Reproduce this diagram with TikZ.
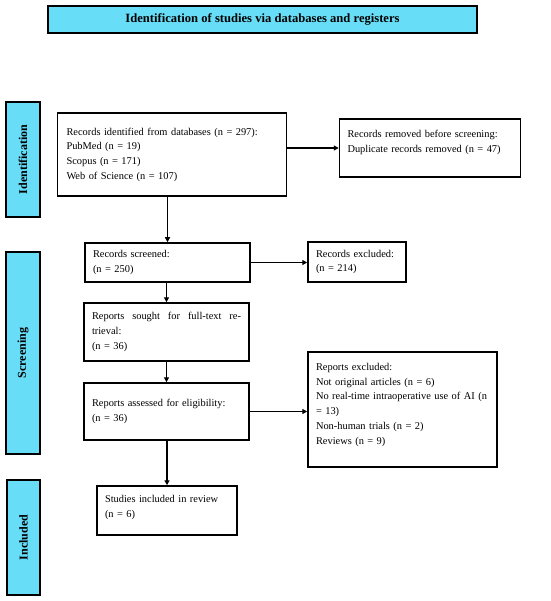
\documentclass[tikz,border=0pt]{standalone}
\usepackage{fontspec}
\setmainfont{Liberation Serif}
\usetikzlibrary{arrows.meta}
\definecolor{phase}{RGB}{104,221,247}
\begin{document}
\begin{tikzpicture}[x=1pt,y=-1pt,
  every node/.style={font=\fontsize{10.4}{14.7}\selectfont},
  box/.style={draw=black,line width=1.5pt,fill=white,inner xsep=8pt,inner ysep=0pt,align=left},
  phasebox/.style={draw=black,line width=1.5pt,fill=phase,inner sep=0pt},
  phaselabel/.style={rotate=90,font=\fontsize{12}{13}\selectfont\bfseries},
  flow/.style={line width=1.9pt,-{Triangle[length=5pt,width=5pt]}}]
\useasboundingbox (0,0) rectangle (550,601);
% title
\node[phasebox,minimum width=429pt,minimum height=27pt,font=\fontsize{12.6}{13}\selectfont\bfseries] (title) at (262.5,19.5) {Identification of studies via databases and registers};
% phase labels
\node[phasebox,minimum width=34pt,minimum height=115pt] (pid) at (23,159.5) {};
\node[phaselabel] (pidt) at (pid.center) {Identification};
\node[phasebox,minimum width=34pt,minimum height=202pt] (psc) at (23,353) {};
\node[phaselabel] (psct) at (psc.center) {Screening};
\node[phasebox,minimum width=33pt,minimum height=115pt] (pin) at (23.5,537.5) {};
\node[phaselabel] (pint) at (pin.center) {Included};
% boxes
\node[box,minimum width=228pt,minimum height=83pt,text width=211pt,inner xsep=9pt] (db) at (172,154.5)
  {Records identified from databases (n = 297):\\PubMed (n = 19)\\Scopus (n = 171)\\Web of Science (n = 107)};
\node[box,minimum width=181pt,minimum height=58pt,text width=165pt] (rem) at (430,148)
  {Records removed before screening:\\Duplicate records removed (n = 47)\\[-1pt]\mbox{}};
\node[box,minimum width=165pt,minimum height=39pt,text width=149pt] (scr) at (167.5,262.5)
  {Records screened:\\(n = 250)};
\node[box,minimum width=98pt,minimum height=40pt,text width=82pt] (exc) at (357,262)
  {Records excluded:\\(n = 214)};
\node[box,minimum width=165pt,minimum height=58pt,text width=149pt] (sought) at (166.5,332)
  {\hbox to 149pt{Reports\hfill sought\hfill for\hfill full-text\hfill re-}\\trieval:\\(n = 36)};
\node[box,minimum width=165pt,minimum height=57pt,text width=149pt] (ass) at (166.5,411.5)
  {Reports assessed for eligibility:\\(n = 36)};
\node[box,minimum width=189pt,minimum height=115pt,text width=173pt] (rex) at (402.5,409.5)
  {Reports excluded:\\Not original articles (n = 6)\\No real-time intraoperative use of AI (n\\= 13)\\Non-human trials (n = 2)\\Reviews (n = 9)\\[-3pt]\mbox{}};
\node[box,minimum width=140pt,minimum height=49pt,text width=124pt] (inc) at (167,510.5)
  {Studies included in review\\(n = 6)\\[-6pt]\mbox{}};
% connectors
\draw[flow] (db.east |- rem.west) -- (rem.west);
\draw[flow] (db.south -| scr.north) -- (scr.north);
\draw[flow] (scr.east) -- (scr.east -| exc.west);
\draw[flow] (scr.south -| sought.north) -- (sought.north);
\draw[flow] (sought.south) -- (ass.north);
\draw[flow] (ass.east) -- (ass.east -| rex.west);
\draw[flow] (ass.south -| inc.north) -- (inc.north);
\end{tikzpicture}
\end{document}
